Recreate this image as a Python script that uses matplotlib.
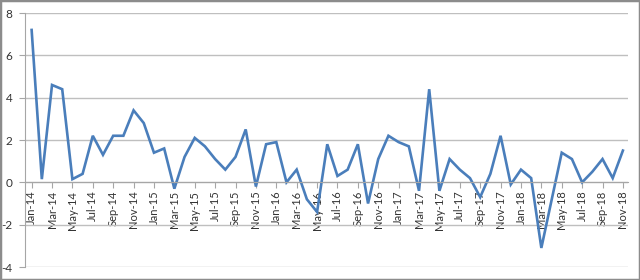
import matplotlib
matplotlib.use('Agg')
import matplotlib.pyplot as plt
from matplotlib.patches import Rectangle

# Meses de enero 2014 a noviembre 2018
meses = []
for anio in range(14, 19):
    for mes in ['Jan', 'Feb', 'Mar', 'Apr', 'May', 'Jun',
                'Jul', 'Aug', 'Sep', 'Oct', 'Nov', 'Dec']:
        meses.append(f'{mes}-{anio}')
meses = meses[:59]

valores = [
    7.2, 0.15, 4.6, 4.4, 0.15, 0.4, 2.2, 1.3, 2.2, 2.2, 3.4, 2.8,   # 2014
    1.4, 1.6, -0.3, 1.2, 2.1, 1.7, 1.1, 0.6, 1.2, 2.5, -0.2, 1.8,   # 2015
    1.9, 0.0, 0.6, -0.8, -1.4, 1.8, 0.3, 0.6, 1.8, -1.0, 1.1, 2.2,  # 2016
    1.9, 1.7, -0.4, 4.4, -0.4, 1.1, 0.6, 0.2, -0.7, 0.4, 2.2, -0.1, # 2017
    0.6, 0.2, -3.1, -0.85, 1.4, 1.1, 0.0, 0.5, 1.1, 0.2, 1.5,       # 2018
]

y_ticks = [-4, -2, 0, 2, 4, 6, 8]

plt.rcParams['font.family'] = ['Lato', 'DejaVu Sans']

fig = plt.figure(figsize=(6.4, 2.8), dpi=100)
ax = fig.add_axes([25 / 640, 1 - 267 / 280, 603 / 640, 254 / 280])

# El eje x cruza en cero (se mueve antes de poner las etiquetas)
for lado in ['top', 'right']:
    ax.spines[lado].set_visible(False)
ax.spines['bottom'].set_position(('data', 0))
ax.spines['bottom'].set_color('#A6A6A6')
ax.spines['left'].set_color('#A6A6A6')

x = list(range(len(valores)))
ax.plot(x, valores, color='#4A7EBB', linewidth=1.9, solid_joinstyle='miter')

ax.set_xlim(-0.65, len(valores) - 0.5)
ax.set_ylim(-4, 8)
ax.set_yticks(y_ticks)
ax.set_yticklabels([str(v) for v in y_ticks])
ax.grid(axis='y', color='#BFBFBF', linewidth=1)
ax.set_axisbelow(True)

ax.set_xticks(x[::2])
ax.set_xticklabels(meses[::2])

ax.tick_params(axis='x', direction='out', length=4, color='#A6A6A6',
               labelsize=8, labelcolor='#333333', pad=2, labelrotation=90)
ax.tick_params(axis='y', length=4, color='#A6A6A6',
               labelsize=8.5, labelcolor='#333333', pad=5)

# Borde gris del área del gráfico
fig.patches.append(Rectangle((0, 0), 1, 1, transform=fig.transFigure,
                             fill=False, edgecolor='#8C8C8C', linewidth=2.5))

fig.savefig('out.png', dpi=100)
